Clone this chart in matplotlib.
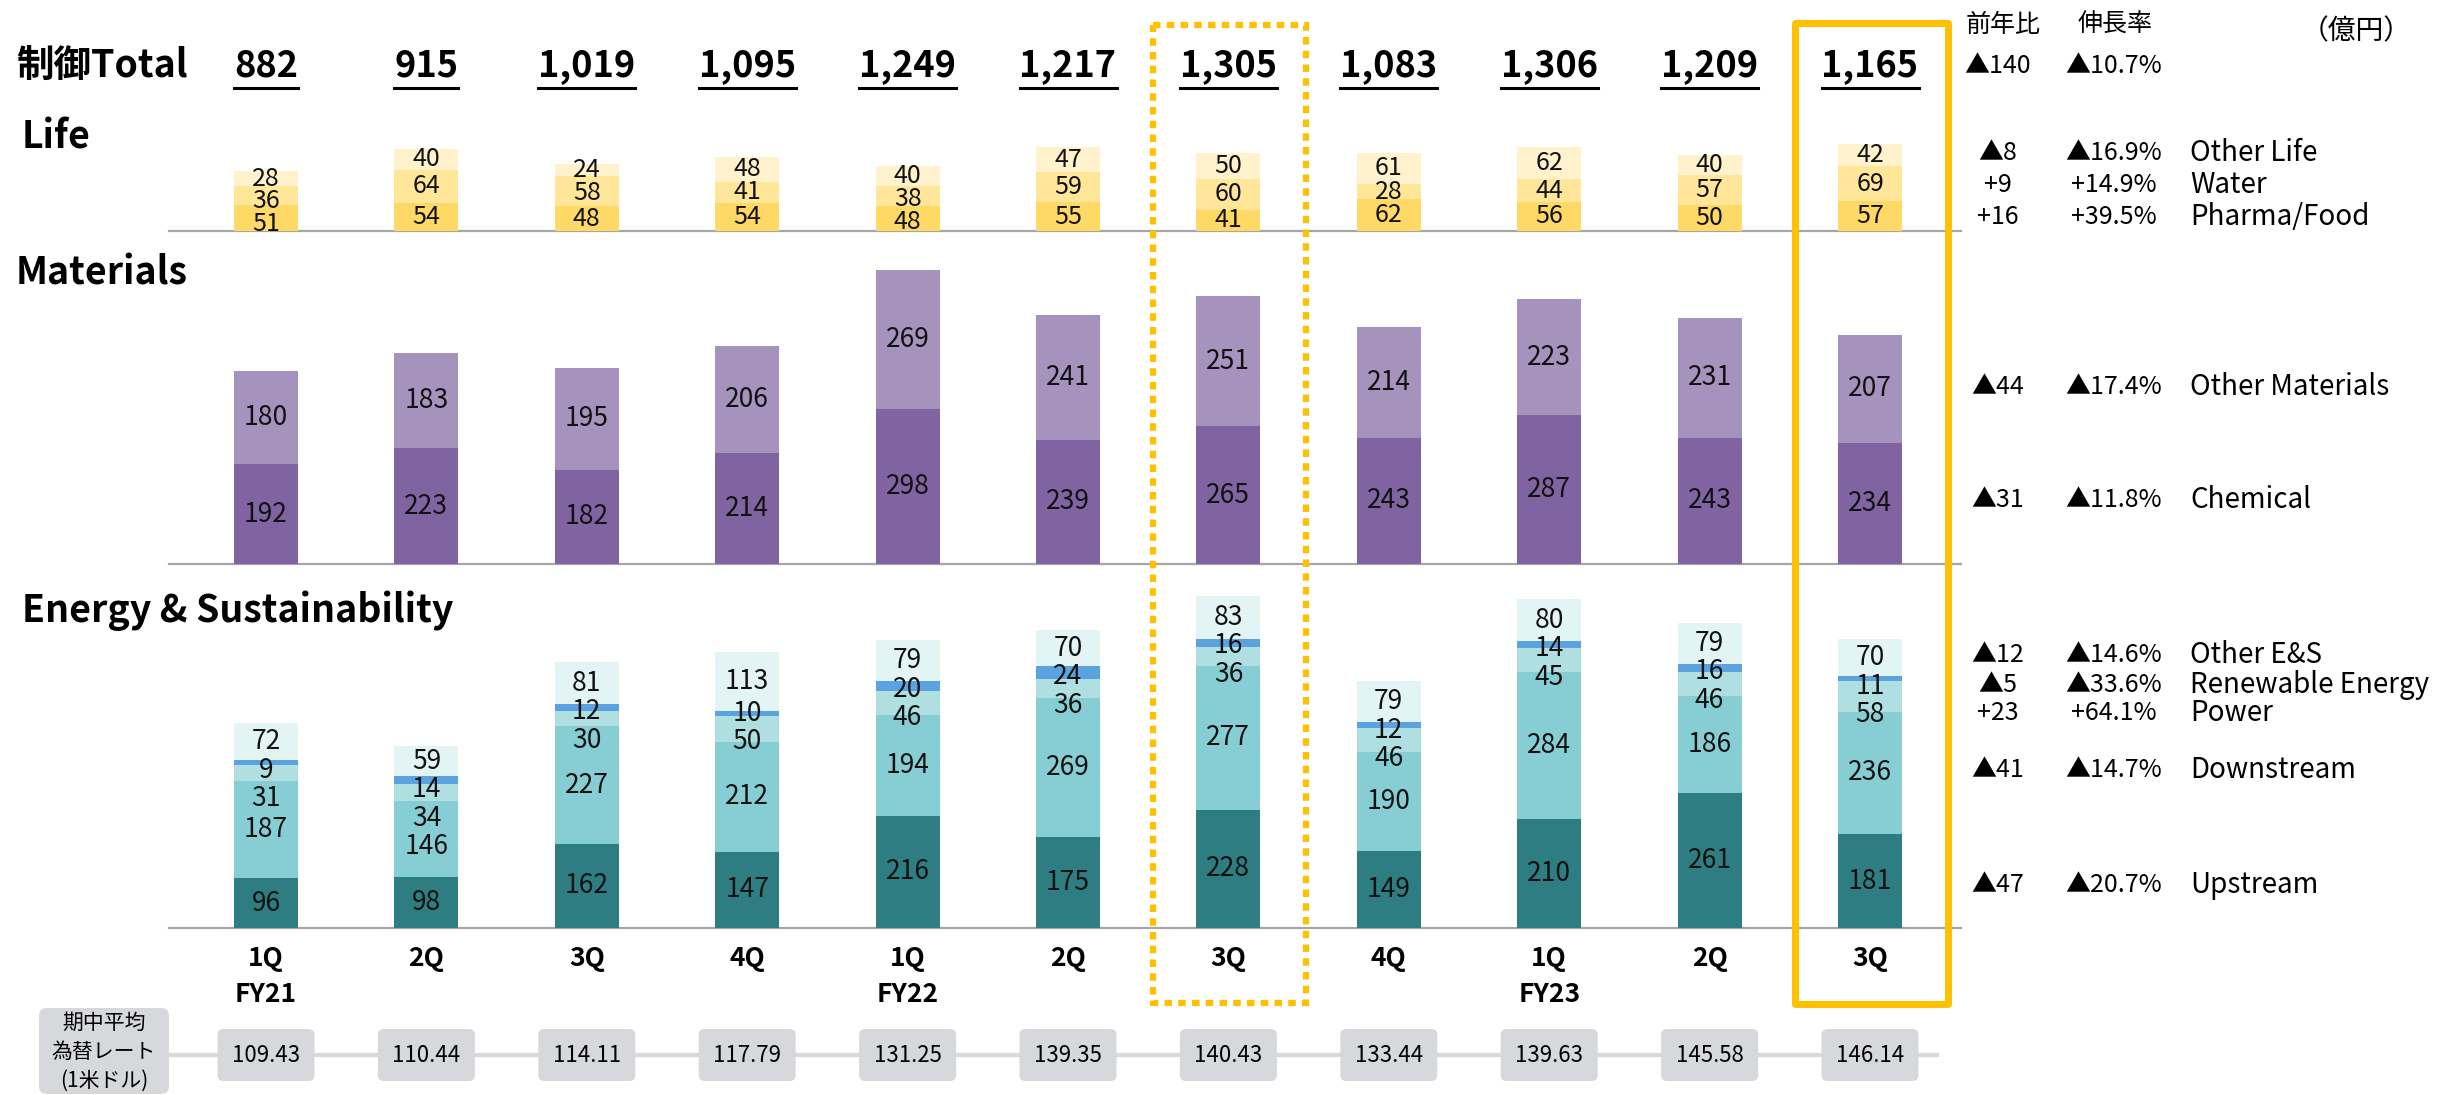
import matplotlib
matplotlib.use('Agg')
import matplotlib.pyplot as plt
import numpy as np
from matplotlib.patches import FancyBboxPatch, Rectangle
from matplotlib.lines import Line2D
from matplotlib.transforms import Affine2D

plt.rcParams['font.family'] = ['Noto Sans CJK JP', 'DejaVu Sans']

# ---------------- data ----------------
quarters = ['1Q', '2Q', '3Q', '4Q', '1Q', '2Q', '3Q', '4Q', '1Q', '2Q', '3Q']
fiscal_years = ['FY21', '', '', '', 'FY22', '', '', '', 'FY23', '', '']
totals = [882, 915, 1019, 1095, 1249, 1217, 1305, 1083, 1306, 1209, 1165]
fx_rates = ['109.43', '110.44', '114.11', '117.79', '131.25', '139.35',
            '140.43', '133.44', '139.63', '145.58', '146.14']

# Life (bottom -> top)
pharma_food = [51, 54, 48, 54, 48, 55, 41, 62, 56, 50, 57]
water = [36, 64, 58, 41, 38, 59, 60, 28, 44, 57, 69]
other_life = [28, 40, 24, 48, 40, 47, 50, 61, 62, 40, 42]
# Materials (bottom -> top)
chemical = [192, 223, 182, 214, 298, 239, 265, 243, 287, 243, 234]
other_materials = [180, 183, 195, 206, 269, 241, 251, 214, 223, 231, 207]
# Energy & Sustainability (bottom -> top)
upstream = [96, 98, 162, 147, 216, 175, 228, 149, 210, 261, 181]
downstream = [187, 146, 227, 212, 194, 269, 277, 190, 284, 186, 236]
power = [31, 34, 30, 50, 46, 36, 36, 46, 45, 46, 58]
renewable = [9, 14, 12, 10, 20, 24, 16, 12, 14, 16, 11]
other_es = [72, 59, 81, 113, 79, 70, 83, 79, 80, 79, 70]

total_yoy = '▲140'
total_growth = '▲10.7%'
seg_names = ['Other Life', 'Water', 'Pharma/Food', 'Other Materials', 'Chemical',
             'Other E&S', 'Renewable Energy', 'Power', 'Downstream', 'Upstream']
seg_yoy = ['▲8', '+9', '+16', '▲44', '▲31', '▲12', '▲5', '+23', '▲41', '▲47']
seg_growth = ['▲16.9%', '+14.9%', '+39.5%', '▲17.4%', '▲11.8%',
              '▲14.6%', '▲33.6%', '+64.1%', '▲14.7%', '▲20.7%']

# ---------------- layout ----------------
W, H = 2450, 1095
fig = plt.figure(figsize=(W / 100, H / 100), dpi=100)
pix = Affine2D().scale(1, -1).translate(0, H).scale(1 / W, 1 / H) + fig.transFigure

X0, DX = 266.0, 160.4        # pixel centre of first bar, spacing
UNIT = 0.519                 # pixels per value unit
ES_PY, MAT_PY, LIFE_PY = 928, 564, 231

ax = fig.add_axes([0, 0, 1, 1])
ax.set_xlim(-X0 / DX, (W - X0) / DX)
ax.set_ylim((ES_PY - H) / UNIT, ES_PY / UNIT)
ax.axis('off')

ES_BASE = 0.0
MAT_BASE = (ES_PY - MAT_PY) / UNIT
LIFE_BASE = (ES_PY - LIFE_PY) / UNIT

x = np.arange(len(quarters))
BW = 0.40

def draw_stack(series, colors, base, gap, fs):
    bottom = np.full(len(x), base, dtype=float)
    cums = []
    for vals, c in zip(series, colors):
        v = np.array(vals, dtype=float)
        ax.bar(x, v, BW, bottom=bottom, color=c, edgecolor='none', zorder=2)
        cums.append((bottom.copy(), v))
        bottom = bottom + v
    n = len(series)
    for i in range(len(x)):
        centers = [cums[k][0][i] + cums[k][1][i] / 2 for k in range(n)]
        pos = list(centers)
        for k in range(n - 2, -1, -1):
            pos[k] = min(centers[k], pos[k + 1] - gap)
        for k in range(n):
            ax.text(x[i], pos[k], f'{int(series[k][i])}', ha='center', va='center',
                    fontsize=fs, color='#111111', zorder=4)

# baselines
for base in (ES_BASE, MAT_BASE, LIFE_BASE):
    ax.plot([(169 - X0) / DX, (1961 - X0) / DX], [base, base], color='#A6A6A6',
            lw=1.6, zorder=1)

draw_stack([pharma_food, water, other_life], ['#FFD966', '#FFE699', '#FFF2CC'],
           LIFE_BASE, 44, 18)
draw_stack([chemical, other_materials], ['#8064A2', '#A593BE'], MAT_BASE, 60, 19)
draw_stack([upstream, downstream, power, renewable, other_es],
           ['#2E7D82', '#86CED4', '#B0DFE2', '#5BA3E0', '#E2F4F4'], ES_BASE, 55, 19)

# ---------------- texts ----------------
def t(px, py, s, **kw):
    return fig.text(px, py, s, transform=pix, **kw)

t(16, 66, '制御Total', fontsize=27, fontweight='bold', ha='left', va='center')
t(22, 137, 'Life', fontsize=27, fontweight='bold', ha='left', va='center')
t(16, 273, 'Materials', fontsize=27, fontweight='bold', ha='left', va='center')
t(22, 611, 'Energy & Sustainability', fontsize=27, fontweight='bold', ha='left', va='center')

bar_px = [ax.transData.transform((xi, 0))[0] for xi in x]

total_texts = []
for i, v in enumerate(totals):
    total_texts.append(t(bar_px[i], 66, f'{v:,}', fontsize=26, fontweight='bold',
                         ha='center', va='center'))
for i in range(len(x)):
    t(bar_px[i], 959, quarters[i], fontsize=19, fontweight='bold', ha='center', va='center')
    if fiscal_years[i]:
        t(bar_px[i], 995, fiscal_years[i], fontsize=19, fontweight='bold',
          ha='center', va='center')

# right side annotations
t(2003, 25, '前年比', fontsize=18, ha='center', va='center')
t(2115, 25, '伸長率', fontsize=18, ha='center', va='center')
t(2356, 31, '（億円）', fontsize=20, ha='center', va='center')
t(1998, 66, total_yoy, fontsize=18, ha='center', va='center')
t(2114, 66, total_growth, fontsize=18, ha='center', va='center')
ann_py = [153, 185, 217, 387, 500, 655, 685, 713, 770, 885]
for name, yy, gg, py in zip(seg_names, seg_yoy, seg_growth, ann_py):
    t(1998, py, yy, fontsize=18, ha='center', va='center')
    t(2114, py, gg, fontsize=18, ha='center', va='center')
    t(2190, py, name, fontsize=20, ha='left', va='center')

# exchange-rate row
fig.add_artist(Line2D([169, 1937], [1055, 1055], color='#D9D9D9', lw=3, transform=pix,
                      zorder=0))
fig.add_artist(FancyBboxPatch((39, 1008), 130, 86, boxstyle='round,pad=0,rounding_size=8',
                              facecolor='#D6D8DB', edgecolor='none', transform=pix))
for k, line in enumerate(['期中平均', '為替レート', '(1米ドル)']):
    t(104, 1023 + 29 * k, line, fontsize=15, ha='center', va='center')
for i, r in enumerate(fx_rates):
    fig.add_artist(FancyBboxPatch((bar_px[i] - 48.5, 1029), 97, 52,
                                  boxstyle='round,pad=0,rounding_size=6',
                                  facecolor='#D6D8DB', edgecolor='none', transform=pix))
    t(bar_px[i], 1055, r, fontsize=16, ha='center', va='center')

# highlight boxes
fig.add_artist(Rectangle((1153, 25), 153, 978, fill=False, edgecolor='#FFC000', lw=4.5,
                         linestyle=(0, (1.2, 1.0)), transform=pix, zorder=5))
fig.add_artist(Rectangle((1795, 23), 153, 981, fill=False, edgecolor='#FFC000', lw=5,
                         joinstyle='round', transform=pix, zorder=5))

# underline totals
fig.canvas.draw()
r = fig.canvas.get_renderer()
for tt in total_texts:
    bb = tt.get_window_extent(r)
    yy = H - bb.y0 + 3
    fig.add_artist(Line2D([bb.x0, bb.x1], [yy, yy], color='black', lw=2.2, transform=pix))

fig.savefig('out.png', dpi=100, facecolor='white')
